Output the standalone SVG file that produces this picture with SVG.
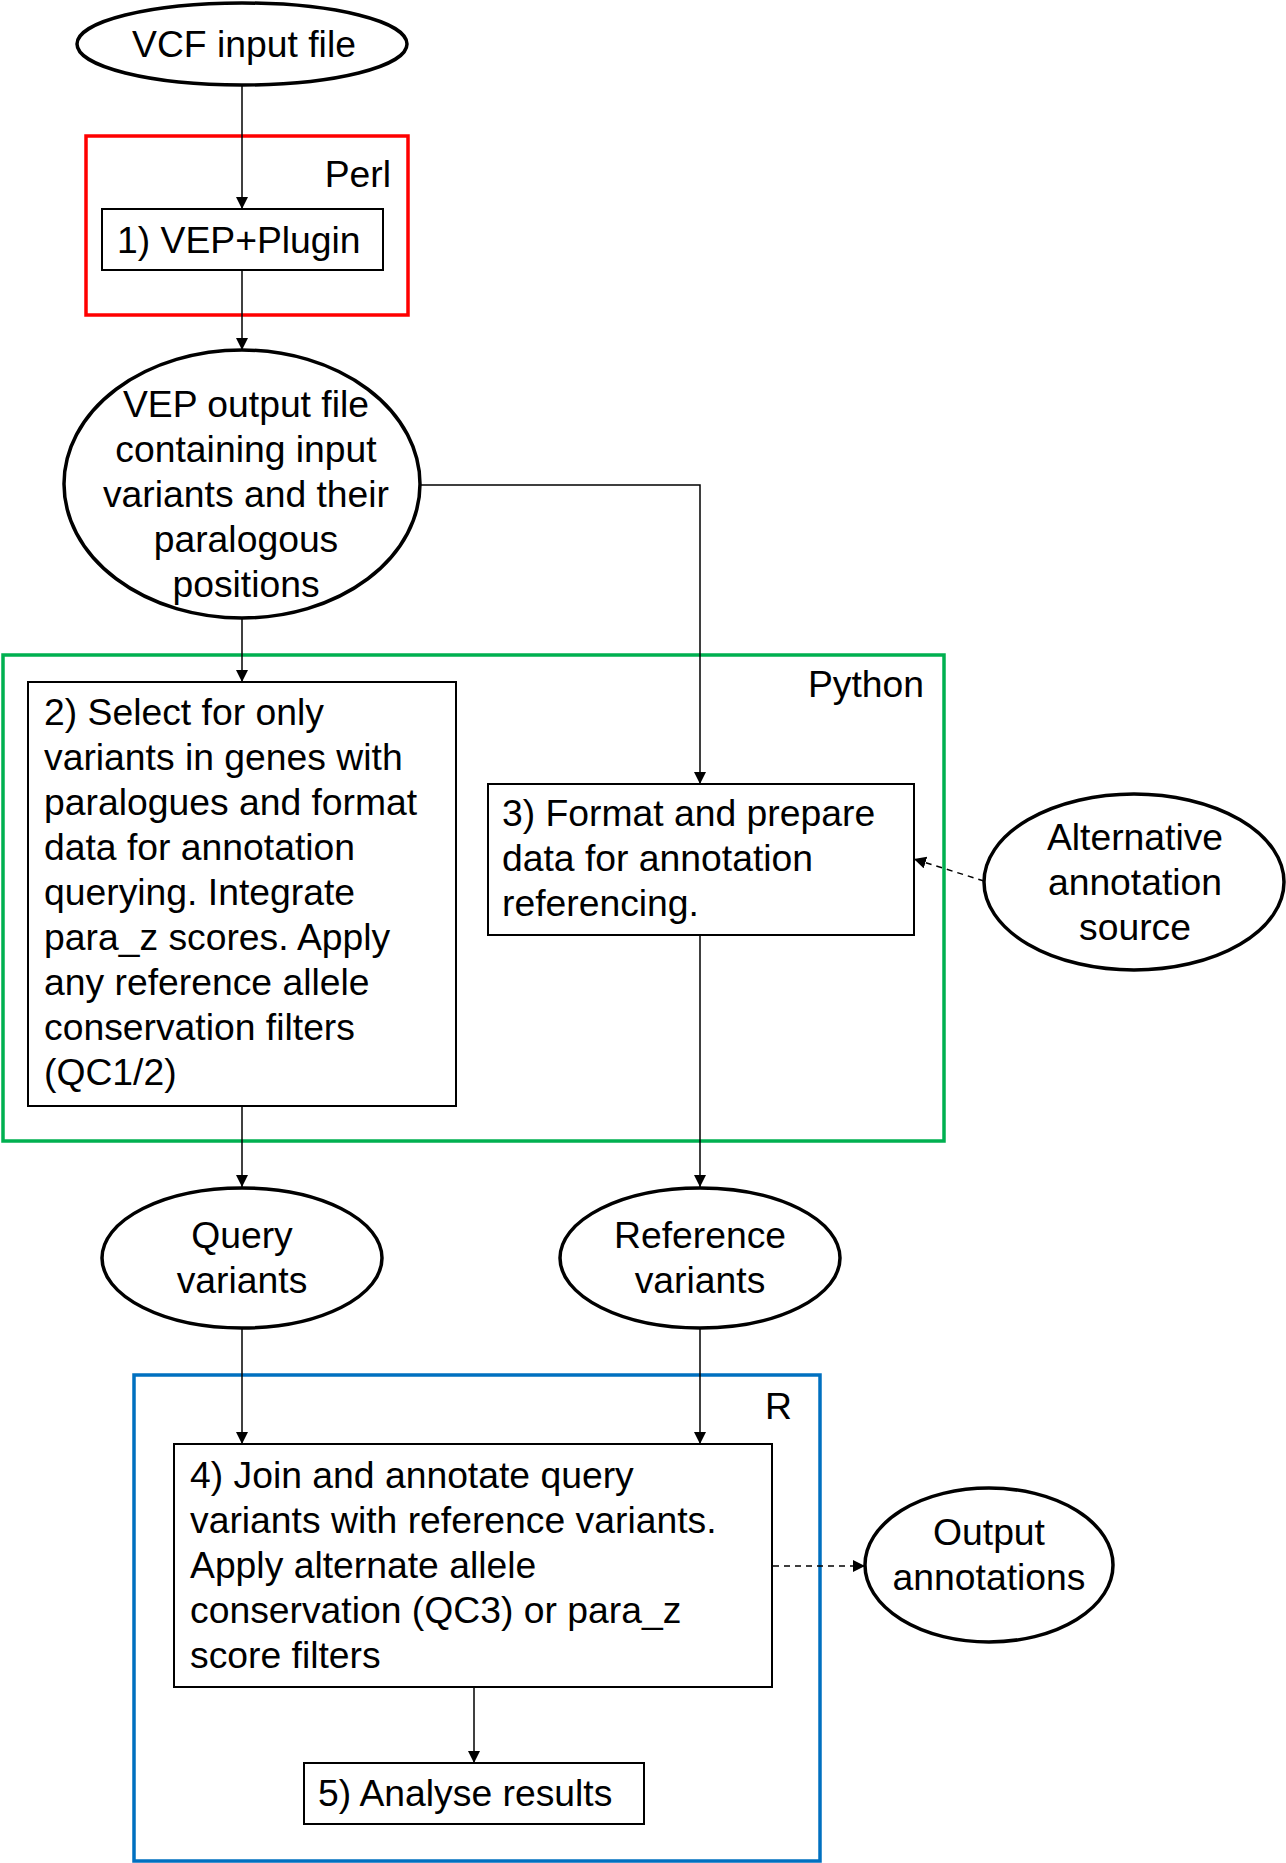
<svg xmlns="http://www.w3.org/2000/svg" width="1286" height="1863" viewBox="0 0 1286 1863">
<defs>
<marker id="arr" markerUnits="userSpaceOnUse" markerWidth="12" markerHeight="14" refX="12" refY="6" orient="auto">
<path d="M0,0 L12,6 L0,12 Z" fill="#000"/>
</marker>
<style>
text{font-family:"Liberation Sans",Arial,sans-serif;font-size:37.3px;fill:#000}
.c{text-anchor:middle}
.e{text-anchor:end}
.ell{fill:#fff;stroke:#000;stroke-width:3.5}
.box{fill:#fff;stroke:#000;stroke-width:2}
.grp{fill:none;stroke-width:3.5}
.ln{fill:none;stroke:#000;stroke-width:1.5}
.dash{fill:none;stroke:#000;stroke-width:1.5;stroke-dasharray:6,5}
</style>
</defs>
<rect width="1286" height="1863" fill="#fff"/>

<g id="group-perl"><rect class="grp" x="86" y="136" width="322" height="179" stroke="#FF0000"/><text class="e" x="391" y="187">Perl</text></g>
<g id="group-python"><rect class="grp" x="3" y="655" width="941" height="486" stroke="#00B050"/><text class="e" x="924" y="697">Python</text></g>
<g id="group-r"><rect class="grp" x="134" y="1375" width="686" height="486" stroke="#0070C0"/><text class="e" x="792" y="1419">R</text></g>

<g id="connectors">
<line class="ln" x1="242" y1="86" x2="242" y2="209" marker-end="url(#arr)"/>
<line class="ln" x1="242" y1="270" x2="242" y2="350" marker-end="url(#arr)"/>
<polyline class="ln" points="421,485 700,485 700,784" marker-end="url(#arr)"/>
<line class="ln" x1="242" y1="618" x2="242" y2="682" marker-end="url(#arr)"/>
<line class="dash" x1="984" y1="881" x2="914" y2="859" marker-end="url(#arr)"/>
<line class="ln" x1="242" y1="1106" x2="242" y2="1187" marker-end="url(#arr)"/>
<line class="ln" x1="700" y1="935" x2="700" y2="1187" marker-end="url(#arr)"/>
<line class="ln" x1="242" y1="1328" x2="242" y2="1444" marker-end="url(#arr)"/>
<line class="ln" x1="700" y1="1328" x2="700" y2="1444" marker-end="url(#arr)"/>
<line class="ln" x1="474" y1="1687" x2="474" y2="1763" marker-end="url(#arr)"/>
<line class="dash" x1="773" y1="1566" x2="865" y2="1566" marker-end="url(#arr)"/>
</g>

<g id="vcf-input"><ellipse class="ell" cx="242" cy="44" rx="165" ry="41"/><text class="c" x="244" y="57">VCF input file</text></g>

<g id="step1"><rect class="box" x="102" y="209" width="281" height="61"/><text x="117" y="253">1) VEP+Plugin</text></g>

<g id="vep-output"><ellipse class="ell" cx="242" cy="484" rx="178" ry="134"/>
<text class="c" x="246"><tspan x="246" y="417">VEP output file</tspan><tspan x="246" y="462">containing input</tspan><tspan x="246" y="507">variants and their</tspan><tspan x="246" y="552">paralogous</tspan><tspan x="246" y="597">positions</tspan></text></g>

<g id="step2"><rect class="box" x="28" y="682" width="428" height="424"/>
<text x="44"><tspan x="44" y="725">2) Select for only</tspan><tspan x="44" y="770">variants in genes with</tspan><tspan x="44" y="815">paralogues and format</tspan><tspan x="44" y="860">data for annotation</tspan><tspan x="44" y="905">querying. Integrate</tspan><tspan x="44" y="950">para_z scores. Apply</tspan><tspan x="44" y="995">any reference allele</tspan><tspan x="44" y="1040">conservation filters</tspan><tspan x="44" y="1085">(QC1/2)</tspan></text></g>

<g id="step3"><rect class="box" x="488" y="784" width="426" height="151"/>
<text x="502"><tspan x="502" y="826">3) Format and prepare</tspan><tspan x="502" y="871">data for annotation</tspan><tspan x="502" y="916">referencing.</tspan></text></g>

<g id="alt-source"><ellipse class="ell" cx="1134" cy="882" rx="150" ry="88"/>
<text class="c" x="1135"><tspan x="1135" y="850">Alternative</tspan><tspan x="1135" y="895">annotation</tspan><tspan x="1135" y="940">source</tspan></text></g>

<g id="query-variants"><ellipse class="ell" cx="242" cy="1258" rx="140" ry="70"/>
<text class="c" x="242"><tspan x="242" y="1248">Query</tspan><tspan x="242" y="1293">variants</tspan></text></g>

<g id="reference-variants"><ellipse class="ell" cx="700" cy="1258" rx="140" ry="70"/>
<text class="c" x="700"><tspan x="700" y="1248">Reference</tspan><tspan x="700" y="1293">variants</tspan></text></g>

<g id="step4"><rect class="box" x="174" y="1444" width="598" height="243"/>
<text x="190"><tspan x="190" y="1488">4) Join and annotate query</tspan><tspan x="190" y="1533">variants with reference variants.</tspan><tspan x="190" y="1578">Apply alternate allele</tspan><tspan x="190" y="1623">conservation (QC3) or para_z</tspan><tspan x="190" y="1668">score filters</tspan></text></g>

<g id="step5"><rect class="box" x="304" y="1763" width="340" height="61"/><text x="318" y="1806">5) Analyse results</text></g>

<g id="output-annotations"><ellipse class="ell" cx="989" cy="1565" rx="124" ry="77"/>
<text class="c" x="989"><tspan x="989" y="1545">Output</tspan><tspan x="989" y="1590">annotations</tspan></text></g>
</svg>
